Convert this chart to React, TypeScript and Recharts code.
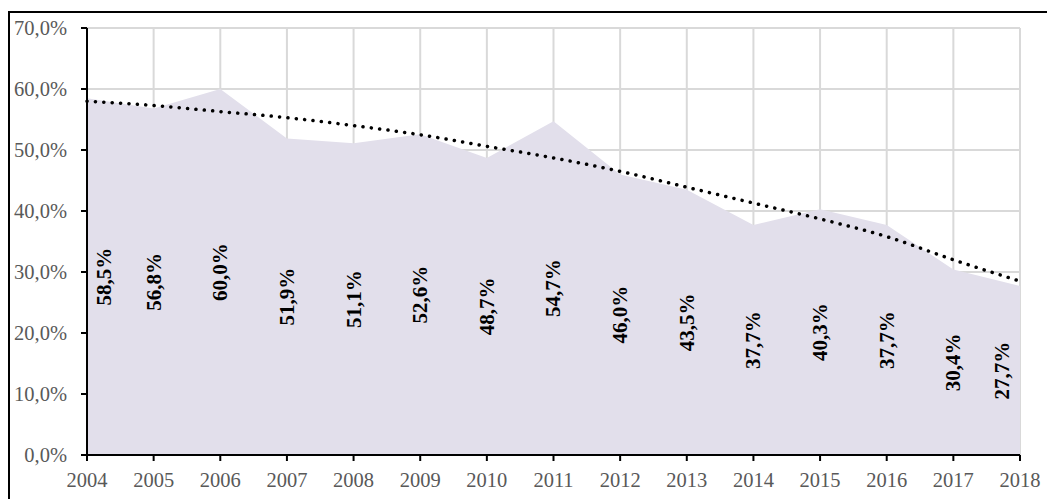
import { ComposedChart, Area, Line, XAxis, YAxis, CartesianGrid, LabelList } from 'recharts';

const years = [2004, 2005, 2006, 2007, 2008, 2009, 2010, 2011, 2012, 2013, 2014, 2015, 2016, 2017, 2018];
const shares = [58.5, 56.8, 60.0, 51.9, 51.1, 52.6, 48.7, 54.7, 46.0, 43.5, 37.7, 40.3, 37.7, 30.4, 27.7];
// polynomial trend line
const trend = [58.0, 57.3, 56.3, 55.3, 54.0, 52.5, 50.6, 48.7, 46.5, 43.9, 41.3, 38.7, 35.8, 32.0, 28.5];
const yTicks = [0, 10, 20, 30, 40, 50, 60, 70];

const W = 1047;
const H = 499;
const PLOT_LEFT = 87;
const PLOT_RIGHT = 1020;
const PLOT_TOP = 28;
const PLOT_BOTTOM = 455;

const FONT = '"Liberation Serif", "Times New Roman", serif';

const fmt = (v: number) => v.toFixed(1).replace('.', ',') + '%';

const chartData = years.map((year, i) => ({ year, share: shares[i], trend: trend[i] }));

// rotated label centred at half the area height, kept inside the plot area
const renderLabel = (props: any) => {
  const { x, y, value } = props;
  if (x == null || y == null) return null;
  const cx = Math.min(Math.max(x, PLOT_LEFT + 17), PLOT_RIGHT - 18);
  const cy = (y + PLOT_BOTTOM) / 2;
  return (
    <text
      x={cx}
      y={cy}
      transform={`rotate(-90, ${cx}, ${cy})`}
      textAnchor="middle"
      dominantBaseline="central"
      fill="#000"
      style={{ fontFamily: FONT, fontSize: 21, fontWeight: 700 }}
    >
      {fmt(value)}
    </text>
  );
};

export default function App() {
  return (
    <div style={{ position: 'absolute', left: 0, top: 0, width: W, height: H, overflow: 'hidden', background: '#fff' }}>
      <div
        style={{
          position: 'absolute',
          left: 8,
          top: 11,
          width: W,
          height: H,
          borderTop: '2px solid #000',
          borderLeft: '2px solid #000',
        }}
      />
      <div style={{ position: 'absolute', left: 0, top: 0 }}>
        <ComposedChart
          width={W}
          height={H}
          data={chartData}
          margin={{ top: PLOT_TOP, right: W - PLOT_RIGHT, bottom: 0, left: 0 }}
        >
          <CartesianGrid stroke="#d9d9d9" strokeWidth={2} />
          <XAxis
            dataKey="year"
            type="number"
            domain={[2004, 2018]}
            ticks={years}
            interval={0}
            height={H - PLOT_BOTTOM}
            tickSize={6}
            tickMargin={11}
            axisLine={{ stroke: '#000', strokeWidth: 2 }}
            tickLine={{ stroke: '#000', strokeWidth: 2 }}
            tick={{ fill: '#595959', fontSize: 20.5, fontFamily: FONT }}
          />
          <YAxis
            type="number"
            domain={[0, 70]}
            ticks={yTicks}
            interval={0}
            width={PLOT_LEFT}
            tickSize={6}
            tickMargin={14}
            tickFormatter={fmt}
            axisLine={{ stroke: '#000', strokeWidth: 2 }}
            tickLine={{ stroke: '#000', strokeWidth: 2 }}
            tick={{ fill: '#595959', fontSize: 20.5, fontFamily: FONT }}
          />
          <Area
            type="linear"
            dataKey="share"
            stroke="none"
            fill="#e2dfeb"
            fillOpacity={1}
            isAnimationActive={false}
          >
            <LabelList dataKey="share" content={renderLabel} />
          </Area>
          <Line
            type="monotone"
            dataKey="trend"
            stroke="#000"
            strokeWidth={3.5}
            strokeDasharray="0.1 8.3"
            strokeLinecap="round"
            dot={false}
            activeDot={false}
            isAnimationActive={false}
          />
        </ComposedChart>
      </div>
    </div>
  );
}
